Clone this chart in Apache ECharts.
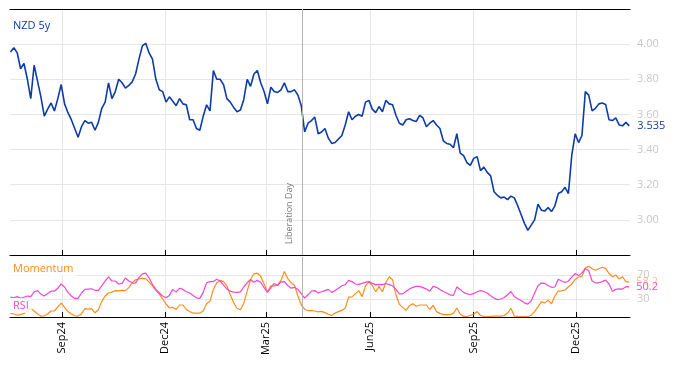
<!DOCTYPE html>
<html><head><meta charset="utf-8">
<script src="https://cdn.jsdelivr.net/npm/echarts@6/dist/echarts.min.js"></script>
<style>html,body{margin:0;padding:0;background:#fff}#c{width:674px;height:366px}</style>
</head><body><div id="c"></div>
<script>
const dates = [
'2024-07-17','2024-07-20','2024-07-23','2024-07-26','2024-07-29',
'2024-08-01','2024-08-04','2024-08-07','2024-08-10','2024-08-13','2024-08-16','2024-08-19','2024-08-22','2024-08-25','2024-08-28','2024-08-31',
'2024-09-03','2024-09-06','2024-09-09','2024-09-12','2024-09-15','2024-09-18','2024-09-21','2024-09-24','2024-09-27','2024-09-30',
'2024-10-03','2024-10-06','2024-10-09','2024-10-12','2024-10-15','2024-10-18','2024-10-21','2024-10-24','2024-10-27','2024-10-30',
'2024-11-02','2024-11-05','2024-11-08','2024-11-11','2024-11-14','2024-11-17','2024-11-20','2024-11-23','2024-11-26','2024-11-29',
'2024-12-02','2024-12-05','2024-12-08','2024-12-11','2024-12-14','2024-12-17','2024-12-20','2024-12-23','2024-12-26','2024-12-29',
'2025-01-01','2025-01-04','2025-01-07','2025-01-10','2025-01-13','2025-01-16','2025-01-19','2025-01-22','2025-01-25','2025-01-28','2025-01-31',
'2025-02-03','2025-02-06','2025-02-09','2025-02-12','2025-02-15','2025-02-18','2025-02-21','2025-02-24','2025-02-27',
'2025-03-02','2025-03-05','2025-03-08','2025-03-11','2025-03-14','2025-03-17','2025-03-20','2025-03-23','2025-03-26','2025-03-29',
'2025-04-01','2025-04-04','2025-04-07','2025-04-10','2025-04-13','2025-04-16','2025-04-19','2025-04-22','2025-04-25','2025-04-28',
'2025-05-01','2025-05-04','2025-05-07','2025-05-10','2025-05-13','2025-05-16','2025-05-19','2025-05-22','2025-05-25','2025-05-28','2025-05-31',
'2025-06-03','2025-06-06','2025-06-09','2025-06-12','2025-06-15','2025-06-18','2025-06-21','2025-06-24','2025-06-27','2025-06-30',
'2025-07-03','2025-07-06','2025-07-09','2025-07-12','2025-07-15','2025-07-18','2025-07-21','2025-07-24','2025-07-27','2025-07-30',
'2025-08-02','2025-08-05','2025-08-08','2025-08-11','2025-08-14','2025-08-17','2025-08-20','2025-08-23','2025-08-26','2025-08-29',
'2025-09-01','2025-09-04','2025-09-07','2025-09-10','2025-09-13','2025-09-16','2025-09-19','2025-09-22','2025-09-25','2025-09-28',
'2025-10-01','2025-10-04','2025-10-07','2025-10-10','2025-10-13','2025-10-16','2025-10-19','2025-10-22','2025-10-25','2025-10-28','2025-10-31',
'2025-11-03','2025-11-06','2025-11-09','2025-11-12','2025-11-15','2025-11-18','2025-11-21','2025-11-24','2025-11-27','2025-11-30',
'2025-12-03','2025-12-06','2025-12-09','2025-12-12','2025-12-15','2025-12-18','2025-12-21','2025-12-24','2025-12-27','2025-12-30',
'2026-01-02','2026-01-05','2026-01-08','2026-01-11','2026-01-14','2026-01-17'
];
const nzd5y = [
3.955,3.98,3.95,3.86,3.89,3.80,3.69,3.88,3.79,3.70,
3.59,3.63,3.665,3.62,3.69,3.77,3.66,3.61,3.57,3.52,
3.47,3.53,3.565,3.55,3.555,3.51,3.555,3.635,3.67,3.78,
3.69,3.73,3.80,3.78,3.75,3.765,3.785,3.83,3.915,3.99,
4.005,3.95,3.915,3.80,3.74,3.73,3.67,3.70,3.675,3.65,
3.69,3.66,3.655,3.57,3.57,3.52,3.51,3.59,3.655,3.62,
3.85,3.80,3.80,3.77,3.69,3.67,3.64,3.615,3.625,3.685,
3.80,3.76,3.83,3.85,3.78,3.73,3.66,3.755,3.73,3.725,
3.74,3.78,3.73,3.73,3.74,3.71,3.65,3.50,3.55,3.565,
3.585,3.49,3.50,3.52,3.465,3.435,3.44,3.46,3.48,3.54,
3.615,3.57,3.59,3.60,3.59,3.67,3.68,3.63,3.61,3.645,
3.615,3.68,3.66,3.655,3.595,3.55,3.54,3.57,3.575,3.565,
3.56,3.595,3.58,3.53,3.55,3.565,3.54,3.52,3.45,3.435,
3.43,3.41,3.49,3.38,3.365,3.325,3.31,3.35,3.36,3.28,
3.30,3.27,3.25,3.16,3.14,3.125,3.13,3.115,3.135,3.125,
3.08,3.03,2.98,2.94,2.97,3.00,3.09,3.055,3.05,3.07,
3.047,3.08,3.15,3.16,3.185,3.15,3.37,3.49,3.44,3.48,
3.73,3.71,3.62,3.635,3.66,3.665,3.657,3.57,3.565,3.58,
3.54,3.535,3.555,3.535
];
const rsi = [
33,32,34,31,33,35,34,42,44,38,
35,39,43,43,48,55,50,41,35,31,
31,40,46,46.5,47,44.5,44.5,52,60,67,
60,60,55,56,65,60,57,56.6,66,72,
73,65,54,46,40.5,35,32,36,46,41.5,
48,46,42,40,36,32,31,41,57,59,
59,63,60,53,46.5,43,41.5,41,42,50,
57,62.5,58,61,58,49,41,49,56,52.5,
58.5,59,52.5,48,49.5,46,39,31.6,37,43,
44,40,42,44,46,41,44,48,52,53.8,
61,59,55,54.5,56,58,59,56,53.5,54.5,
54,55.8,54,52,46,38.5,38.5,43,46.6,49.5,
51,51,49,46.5,43,51,49.5,46,42.5,40,
37,36,50,46,41,38.5,37.5,39,42,44,
42.5,40,35.5,31.5,29,30,32.5,37,42.5,34,
30.5,27.5,23.6,21.5,27,40,52,56.6,56,52.5,
49.5,50,63,60,57.5,60,66.5,72.5,69,73.5,
81,77,60,57,57,59,61.5,55,43,46,
47,46.5,50.5,50.2
];
const momentum = [
6,5,3,4,6,10,14,10,5,1.5,
2,5,10,10,17,23,16,9,5,2,
1.6,5,14,13,14,7,12,26,35,40,
41.5,44,43.5,44.5,44,49,57,62,63.3,64.5,
64,58,52,44,38,30,22,15,16,12.5,
20,20,12.5,9,6.6,6.6,6.6,10,22,26.5,
46,57,61,59,52,37,24,14.6,12,23,
43,62.5,72,73,68,55,42,52,52,53.5,
61,76,64,57,53,35,20,13,10.5,11,
10,8.5,9.3,7.3,4.5,2.5,6.6,9,11,15,
33,33.5,39,44,34,52,58.5,52.5,42,51,
42,57.5,67,62,37,21,16,11,18.8,22,
18,20,20,20,12.5,19.5,9,6,4,4,
4,6,15,5,1,0.8,2.5,5,9,2.5,
1,0.8,1,1.5,1.6,1.6,2.5,6.5,14.6,1.6,
1,0.5,0.5,0.5,3,9,17,25.5,23.5,28,
22,35,43,43.5,45,50.5,55,63,66.7,68,
81.6,84.4,80.5,78,80.5,83,81,72.5,67,70,
63.5,67,59,58.2
];
const tickDates = ['2024-09-01','2024-12-01','2025-03-01','2025-06-01','2025-09-01','2025-12-01'];
const tickLabels = ['Sep24','Dec24','Mar25','Jun25','Sep25','Dec25'];
const indicatorTicks = [30, 70];
const eventDate = '2025-04-02';
const eventLabel = 'Liberation Day';
const xMin = '2024-07-16T14:00:00';
const xMax = '2026-01-17T15:00:00';

const ts = s => new Date(s.length === 10 ? s + 'T00:00:00' : s).getTime();
const tickTs = tickDates.map(ts);
const FONT = '"Open Sans", sans-serif';
const BLUE = '#0d3ca6', ORANGE = '#ff8c1a', PINK = '#f545d0';
const GRID_C = '#e6e6e6', LABEL_C = '#c8c8c8';

const chart = echarts.init(document.getElementById('c'), null, {renderer: 'canvas'});
const xBase = {
  type: 'value', min: ts(xMin), max: ts(xMax),
  axisLine: {show: true, onZero: false, lineStyle: {color: '#000', width: 1}},
  axisTick: {show: true, inside: true, length: 5, lineStyle: {color: '#000'}, customValues: tickTs},
  splitLine: {show: true, lineStyle: {color: GRID_C, width: 1}}
};
const evLine = (withLabel) => ({
  silent: true, symbol: ['none', 'none'],
  lineStyle: {color: '#b4b4b4', width: 1, type: 'solid'},
  label: withLabel ? {show: true, formatter: eventLabel, position: 'insideStartTop', distance: [11, 8],
    color: '#777', fontSize: 9, fontFamily: FONT} : {show: false},
  emphasis: {disabled: true},
  data: [{xAxis: ts(eventDate)}]
});

chart.setOption({
  animation: false,
  textStyle: {fontFamily: FONT},
  title: [
    {text: 'NZD 5y', left: 10, top: 18, padding: [2, 3], textStyle: {color: BLUE, fontSize: 11, fontWeight: 'normal', fontFamily: FONT}},
    {text: 'Momentum', left: 10, top: 261, padding: [2, 3], backgroundColor: 'rgba(255,255,255,0.75)', textStyle: {color: ORANGE, fontSize: 11, fontWeight: 'normal', fontFamily: FONT}},
    {text: 'RSI', left: 10, top: 298, padding: [2, 3], backgroundColor: 'rgba(255,255,255,0.75)', textStyle: {color: PINK, fontSize: 11, fontWeight: 'normal', fontFamily: FONT}}
  ],
  grid: [
    {left: 10, right: 44, top: 9, height: 246},
    {left: 10, right: 44, top: 257, height: 60}
  ],
  xAxis: [
    Object.assign({}, xBase, {gridIndex: 0, position: 'bottom', axisLabel: {show: false, customValues: tickTs}}),
    {type: 'value', gridIndex: 0, position: 'top', min: ts(xMin), max: ts(xMax),
      axisLine: {show: true, onZero: false, lineStyle: {color: '#000', width: 1}}, axisTick: {show: false},
      axisLabel: {show: false}, splitLine: {show: false}},
    Object.assign({}, xBase, {gridIndex: 1, position: 'bottom',
      axisLabel: {show: true, customValues: tickTs, rotate: 90, margin: 5, color: '#000', fontSize: 11, fontFamily: FONT,
        formatter: v => { const i = tickTs.indexOf(v); return i >= 0 ? tickLabels[i] : ''; }}})
  ],
  yAxis: [
    {type: 'value', gridIndex: 0, position: 'right', min: 2.8, max: 4.2, interval: 0.2,
      axisLine: {show: false}, axisTick: {show: false},
      axisLabel: {color: LABEL_C, fontSize: 11, fontFamily: FONT, margin: 7, showMinLabel: false, showMaxLabel: false,
        formatter: v => v.toFixed(2)},
      splitLine: {show: true, lineStyle: {color: GRID_C}}},
    {type: 'value', gridIndex: 1, position: 'right', min: 0, max: 100,
      axisLine: {show: false}, axisTick: {show: false, customValues: indicatorTicks},
      axisLabel: {color: LABEL_C, fontSize: 11, fontFamily: FONT, margin: 7, customValues: indicatorTicks},
      splitLine: {show: true, lineStyle: {color: GRID_C}}}
  ],
  series: [
    {name: 'NZD 5y', type: 'line', xAxisIndex: 0, yAxisIndex: 0, showSymbol: false, symbol: 'none',
      lineStyle: {color: BLUE, width: 1.6}, itemStyle: {color: BLUE},
      data: dates.map((d, i) => [ts(d), nzd5y[i]]),
      endLabel: {show: true, distance: 7, color: BLUE, fontSize: 11, fontFamily: FONT, backgroundColor: '#fff', padding: [0, 1],
        formatter: p => p.value[1].toFixed(3)},
      markLine: evLine(true)},
    {name: 'Momentum', type: 'line', xAxisIndex: 2, yAxisIndex: 1, showSymbol: false, symbol: 'none',
      lineStyle: {color: ORANGE, width: 1.2}, itemStyle: {color: ORANGE},
      data: dates.map((d, i) => [ts(d), momentum[i]]),
      endLabel: {show: true, distance: 7, color: 'rgba(255,140,26,0.55)', fontSize: 11, fontFamily: FONT,
        formatter: p => p.value[1].toFixed(1)},
      markLine: evLine(false)},
    {name: 'RSI', type: 'line', xAxisIndex: 2, yAxisIndex: 1, showSymbol: false, symbol: 'none',
      lineStyle: {color: PINK, width: 1.2}, itemStyle: {color: PINK},
      data: dates.map((d, i) => [ts(d), rsi[i]]),
      endLabel: {show: true, distance: 7, color: PINK, fontSize: 11, fontFamily: FONT, backgroundColor: 'rgba(255,255,255,0.6)',
        formatter: p => p.value[1].toFixed(1)}}
  ]
});
</script></body></html>
